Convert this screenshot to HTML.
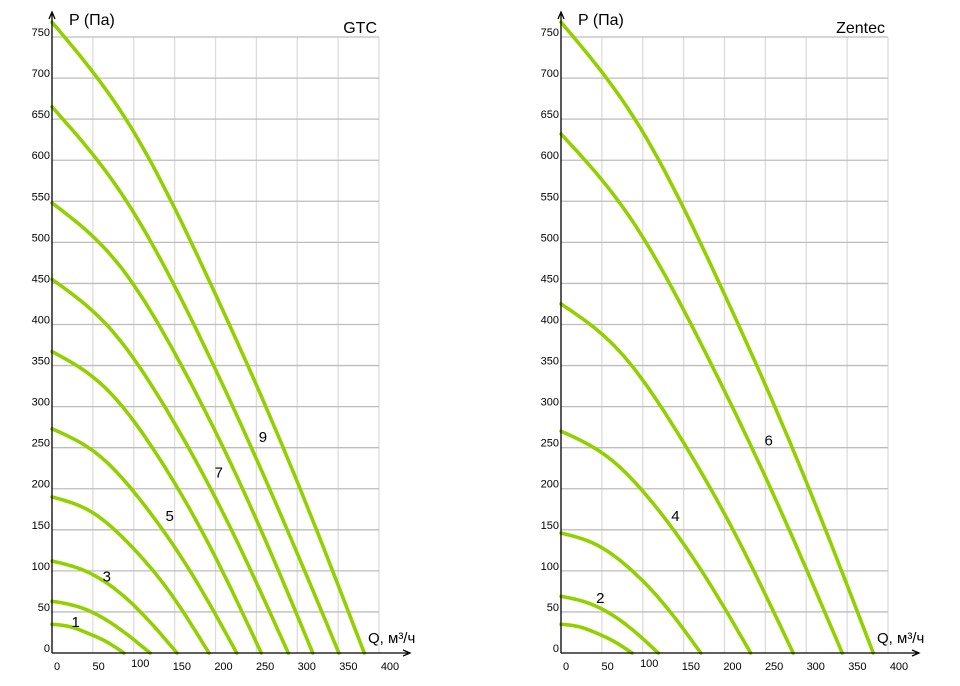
<!DOCTYPE html>
<html><head><meta charset="utf-8"><style>
html,body{margin:0;padding:0;background:#fff;}
svg{display:block;font-family:"Liberation Sans",sans-serif;}
</style></head><body>
<svg id="chart" width="960" height="686" viewBox="0 0 960 686"></svg>
<script>
const yTicks = [0,50,100,150,200,250,300,350,400,450,500,550,600,650,700,750];
const xTicks = [0,50,100,150,200,250,300,350,400];
const gtcNames = ["1","2","3","4","5","6","7","8","9","10"];
const gtcCurves = [
 [[0,35],[22,32],[44,24],[66,14],[88,0]],
 [[0,63],[30,57],[60,44],[90,24],[120,0]],
 [[0,112],[38,101],[77,78],[115,43],[153,0]],
 [[0,190],[48,172],[96,131],[144,74],[192,0]],
 [[0,273],[57,241],[113,180],[170,98],[226,0]],
 [[0,367],[64,324],[128,242],[192,132],[256,0]],
 [[0,455],[72,394],[145,288],[217,155],[289,0]],
 [[0,548],[80,475],[160,347],[239,187],[319,0]],
 [[0,665],[88,555],[176,395],[263,207],[351,0]],
 [[0,768],[96,641],[191,456],[287,240],[382,0]]
];
const gtcLabels = [["1",29,38],["3",67,93],["5",144,167],["7",204,220],["9",258,263]];
const zenNames = ["1","2","3","4","5","6","7"];
const zenCurves = [
 [[0,35],[22,32],[44,24],[65,14],[87,0]],
 [[0,69],[30,62],[60,48],[89,27],[119,0]],
 [[0,146],[43,132],[86,101],[128,57],[171,0]],
 [[0,270],[58,238],[116,178],[174,97],[232,0]],
 [[0,425],[71,368],[142,269],[213,145],[284,0]],
 [[0,632],[86,528],[172,375],[258,197],[344,0]],
 [[0,768],[96,641],[191,456],[287,240],[382,0]]
];
const zenLabels = [["2",48,67],["4",140,167],["6",254,259]];

const NS="http://www.w3.org/2000/svg";
const svg=document.getElementById('chart');
function mk(tag,attrs,parent){const e=document.createElementNS(NS,tag);for(const k in attrs)e.setAttribute(k,attrs[k]);(parent||svg).appendChild(e);return e;}
// natural cubic spline P(Q), sampled
function spline(pts){
  const n=pts.length, x=pts.map(p=>p[0]), y=pts.map(p=>p[1]);
  const h=[];for(let i=0;i<n-1;i++)h.push(x[i+1]-x[i]);
  const a=new Array(n).fill(0),b=new Array(n).fill(1),c=new Array(n).fill(0),d=new Array(n).fill(0);
  for(let i=1;i<n-1;i++){a[i]=h[i-1];b[i]=2*(h[i-1]+h[i]);c[i]=h[i];d[i]=6*((y[i+1]-y[i])/h[i]-(y[i]-y[i-1])/h[i-1]);}
  for(let i=1;i<n;i++){const m=a[i]/b[i-1];b[i]-=m*c[i-1];d[i]-=m*d[i-1];}
  const M=new Array(n).fill(0);M[n-1]=d[n-1]/b[n-1];
  for(let i=n-2;i>=0;i--)M[i]=(d[i]-c[i]*M[i+1])/b[i];
  M[0]=0;M[n-1]=0;
  const out=[];
  for(let i=0;i<n-1;i++){
    for(let s=0;s<12;s++){
      const t=x[i]+h[i]*s/12;
      const A=(x[i+1]-t)/h[i],B=(t-x[i])/h[i];
      const v=A*y[i]+B*y[i+1]+((A*A*A-A)*M[i]+(B*B*B-B)*M[i+1])*h[i]*h[i]/6;
      out.push([t,v]);
    }
  }
  out.push([x[n-1],y[n-1]]);
  return out;
}
function drawChart(id,x0,title,titleX,curves,names,labels){
  const g=mk('g',{});
  
  
  const xs=q=>x0+q*0.8175;
  const ys=p=>653-p*0.8213;
  xTicks.forEach(v=>{ if(v===0)return;
    const l=mk('line',{x1:xs(v),x2:xs(v),y1:ys(750),y2:653,stroke:'#dcdcdc','stroke-width':1.3},g);
    
    
  });
  yTicks.forEach(v=>{ if(v===0)return;
    const l=mk('line',{x1:x0,x2:xs(400),y1:ys(v),y2:ys(v),stroke:'#bdbdbd','stroke-width':1.3},g);
    
    
  });
  curves.forEach((c,i)=>{
    const s=spline(c);
    const d="M"+s.map(a=>xs(a[0]).toFixed(1)+","+ys(a[1]).toFixed(1)).join(" L");
    const p=mk('path',{d:d,fill:'none',stroke:'#92d000','stroke-width':3.6,'stroke-linecap':'round','stroke-linejoin':'round'},g);
    
    
  });
  const ya=mk('path',{d:`M${x0},653 L${x0},13 M${x0-3},19 L${x0},12 L${x0+3},19`,stroke:'#000','stroke-width':1.3,fill:'none'},g);
  
  
  const xa=mk('path',{d:`M${x0},653 L${x0+358},653 M${x0+351},650 L${x0+358},653 L${x0+351},656`,stroke:'#000','stroke-width':1.3,fill:'none'},g);
  
  
  yTicks.forEach(v=>{
    const t=mk('text',{x:x0-2,y:ys(v)-1,'font-size':11,'text-anchor':'end',fill:'#000'},g);
    t.textContent=v;
    
    
  });
  xTicks.forEach(v=>{
    const t=mk('text',{x:xs(v)+5+v*0.015,y:v===100?667:670,'font-size':11,'text-anchor':'middle',fill:'#000'},g);
    t.textContent=v;
    
    
  });
  labels.forEach(l=>{
    const t=mk('text',{x:xs(l[1]),y:ys(l[2])+5,'font-size':15,'text-anchor':'middle',fill:'#000'},g);
    t.textContent=l[0];
    
    
  });
  const yt=mk('text',{x:x0+17,y:25,'font-size':16,fill:'#000'},g);
  yt.textContent='P (Па)';
  
  
  const xt=mk('text',{x:x0+316,y:643,'font-size':15,fill:'#000'},g);
  xt.textContent='Q, м³/ч';
  
  
  const tt=mk('text',{x:titleX,y:33,'font-size':16,'text-anchor':'end',fill:'#000'},g);
  tt.textContent=title;
  
  
}
drawChart('gtc',52,'GTC',377,gtcCurves,gtcNames,gtcLabels);
drawChart('zentec',561,'Zentec',885,zenCurves,zenNames,zenLabels);
</script>
</body></html>
